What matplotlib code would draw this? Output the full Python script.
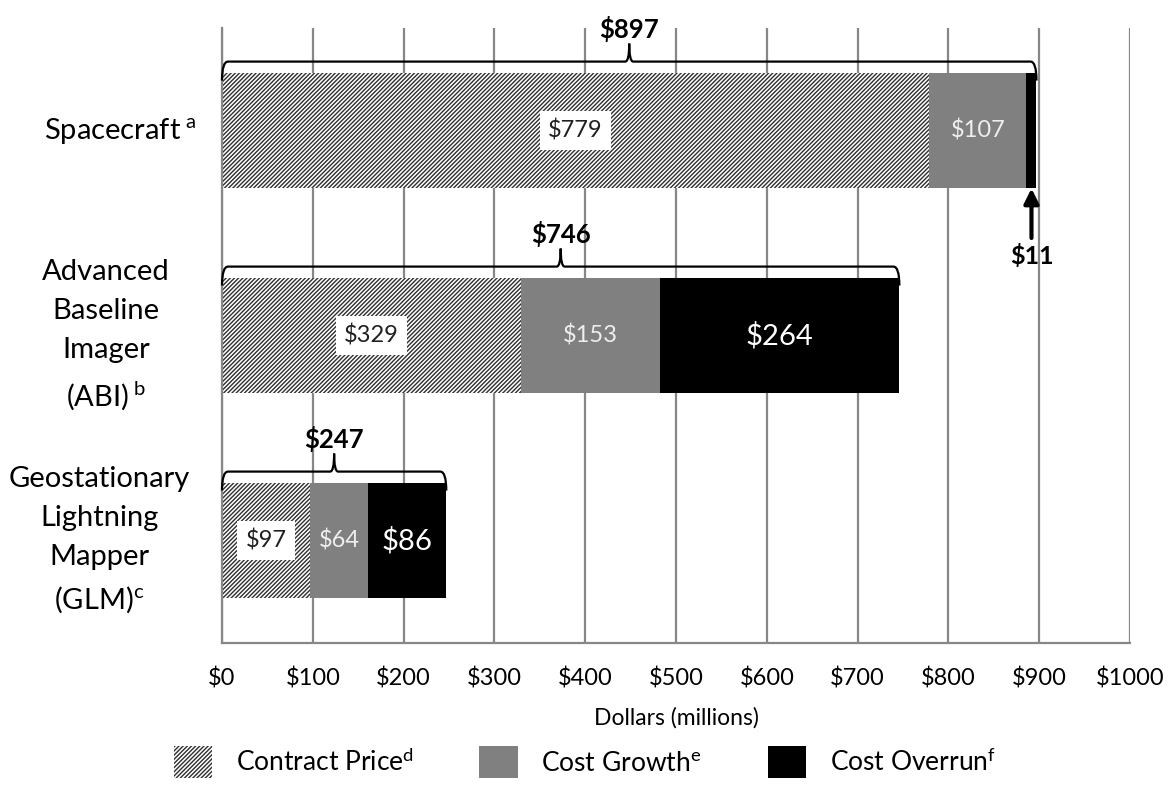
import numpy as np
import matplotlib.pyplot as plt
from matplotlib.path import Path
from matplotlib.patches import PathPatch, Patch

plt.rcParams["font.family"] = "Lato"
plt.rcParams["mathtext.fontset"] = "custom"
plt.rcParams["mathtext.rm"] = "Lato"
plt.rcParams["mathtext.it"] = "Lato:italic"
plt.rcParams["mathtext.bf"] = "Lato:bold"
plt.rcParams["hatch.linewidth"] = 1.0

# data (millions of dollars)
categories = [
    r"Spacecraft$^{\ \mathrm{a}}$",
    "Advanced\nBaseline\nImager\n" + r"(ABI)$^{\ \mathrm{b}}$",
    "Geostationary\nLightning\nMapper\n" + r"(GLM)$^{\mathrm{c}}$",
]
contract = [779, 329, 97]
growth = [107, 153, 64]
overrun = [11, 264, 86]
totals = [897, 746, 247]
xticks = np.arange(0, 1001, 100)
legend_labels = [r"Contract Price$^{\mathrm{d}}$", r"Cost Growth$^{\mathrm{e}}$",
                 r"Cost Overrun$^{\mathrm{f}}$"]

fig = plt.figure(figsize=(11.69, 7.87), dpi=100)
ax = fig.add_axes([222 / 1169, 144 / 787, 908 / 1169, 615 / 787])

ypos = np.array([2, 1, 0])
h = 0.565
left2 = np.array(contract)
left3 = left2 + np.array(growth)
hatch_col = "#2e2e2e"

ax.barh(ypos, contract, height=h, color="white", edgecolor=hatch_col,
        linewidth=0, hatch="////////", zorder=2)
ax.barh(ypos, growth, left=left2, height=h, color="#808080", linewidth=0, zorder=2)
ax.barh(ypos, overrun, left=left3, height=h, color="black", linewidth=0, zorder=2)

# value labels
for i, y in enumerate(ypos):
    ax.text(contract[i] / 2, y, f"${contract[i]}", ha="center", va="center",
            fontsize=17, color="#202020", zorder=4,
            bbox=dict(boxstyle="square,pad=0.35", fc="white", ec="none"))
    ax.text(left2[i] + growth[i] / 2, y, f"${growth[i]}", ha="center", va="center",
            fontsize=17, color="#eeeeee", zorder=4)
    if overrun[i] > 50:
        ax.text(left3[i] + overrun[i] / 2, y, f"${overrun[i]}", ha="center",
                va="center", fontsize=21, color="white", zorder=4)

# small overrun on spacecraft: arrow annotation
x11 = left3[0] + overrun[0] / 2
ax.annotate(f"${overrun[0]}", xy=(x11, ypos[0] - h / 2), xytext=(x11, 1.39),
            ha="center", va="center", fontsize=18, fontweight="bold",
            arrowprops=dict(arrowstyle="-|>", lw=3, color="black",
                            mutation_scale=22, shrinkA=2, shrinkB=0),
            zorder=5)

# braces with totals
px_x = 1000 / 908
px_y = 3 / 615


def draw_brace(x0, x1, top):
    yl = top + 11 * px_y
    yp = yl + 18 * px_y
    yb = top - 8 * px_y
    r = 6 * px_x
    rp = 4 * px_x
    xm = (x0 + x1) / 2
    verts = [(x0, yb), (x0, yl), (x0 + r, yl),
             (xm - rp, yl),
             (xm, yl), (xm, yp),
             (xm, yl), (xm + rp, yl),
             (x1 - r, yl),
             (x1, yl), (x1, yb)]
    codes = [Path.MOVETO, Path.CURVE3, Path.CURVE3,
             Path.LINETO,
             Path.CURVE3, Path.CURVE3,
             Path.CURVE3, Path.CURVE3,
             Path.LINETO,
             Path.CURVE3, Path.CURVE3]
    ax.add_patch(PathPatch(Path(verts, codes), fc="none", ec="black", lw=1.6,
                           zorder=5, clip_on=False))
    return xm, yp


for i, y in enumerate(ypos):
    xm, yp = draw_brace(0, totals[i], y + h / 2)
    ax.text(xm, yp + 2 * px_y, f"${totals[i]}", ha="center", va="bottom",
            fontsize=18.5, fontweight="bold", zorder=5)

# category labels
label_x = [-0.112, -0.128, -0.135]
for i, y in enumerate(ypos):
    ax.text(label_x[i], y, categories[i], transform=ax.get_yaxis_transform(),
            ha="center", va="center", multialignment="center", fontsize=21,
            linespacing=1.62)

ax.set_xlim(0, 1000)
ax.set_ylim(-0.5, 2.5)
ax.set_xticks(xticks)
ax.set_xticklabels([f"${v}" for v in xticks], fontsize=17)
ax.tick_params(axis="x", length=0, pad=18)
ax.set_yticks([])
ax.set_xlabel("Dollars (millions)", fontsize=16.5, labelpad=12)
ax.grid(axis="x", color="#878787", lw=1.6, zorder=0)
for s in ["top", "right"]:
    ax.spines[s].set_visible(False)
for s in ["left", "bottom"]:
    ax.spines[s].set_color("#878787")
    ax.spines[s].set_linewidth(1.6)

handles = [Patch(fc="white", ec=hatch_col, lw=0, hatch="////////"),
           Patch(fc="#808080", lw=0), Patch(fc="black", lw=0)]
fig.legend(handles, legend_labels, loc="center", bbox_to_anchor=(0.5, 1 - 762 / 787),
           ncol=3, frameon=False, fontsize=19, handlelength=1.45, handleheight=1.5,
           handletextpad=0.9, columnspacing=2.5)

fig.savefig("out.png", dpi=100)
